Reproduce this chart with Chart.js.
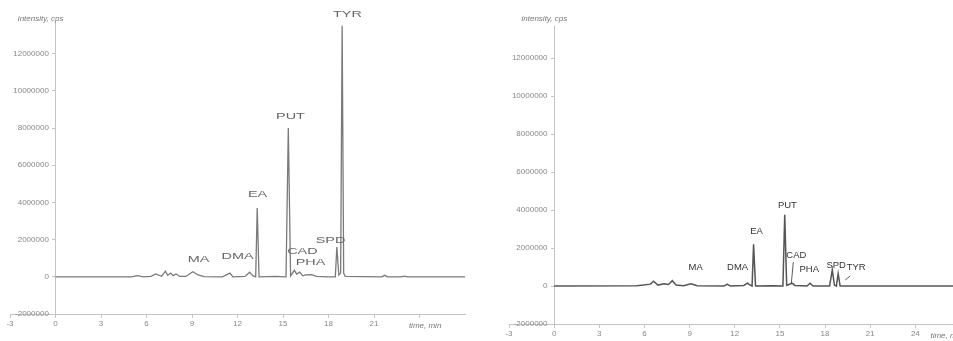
<!DOCTYPE html>
<html>
<head>
<meta charset="utf-8">
<script src="https://cdn.jsdelivr.net/npm/chart.js@4.4.0/dist/chart.umd.min.js"></script>
<style>
    html, body { margin: 0; padding: 0; background: #fff; }
    body { width: 953px; height: 341px; position: relative; overflow: hidden; }
    .box { position: absolute; top: 0; height: 341px; }
    #leftBox { left: 0; width: 472px; }
    #rightBox { left: 480px; width: 473px; }
</style>
</head>
<body>
<div class="box" id="leftBox"><canvas id="leftChart"></canvas></div>
<div class="box" id="rightBox"><canvas id="rightChart"></canvas></div>
<script>
// left chromatogram (time, min / intensity, cps)
const leftTimes = [0, 5.0, 5.4, 5.8, 6.3, 6.6, 7.0, 7.25, 7.4, 7.6, 7.75, 7.95, 8.2, 8.6, 9.05, 9.4, 9.8,
    11.0, 11.5, 11.7, 12.5, 12.8, 13.0, 13.2, 13.3, 13.42, 14.5, 15.2, 15.35, 15.5, 15.75, 15.9, 16.1,
    16.3, 16.5, 16.9, 17.2, 18.0, 18.45, 18.55, 18.68, 18.8, 18.9, 19.0, 19.1, 21.5, 21.7, 21.9, 22.8, 23.0, 23.2, 27];
const leftValues = [0, 0, 60000, 0, 20000, 150000, 30000, 300000, 80000, 200000, 60000, 150000, 20000, 20000, 270000, 100000, 10000,
    0, 200000, 0, 20000, 250000, 60000, 0, 3700000, 0, 20000, 0, 8000000, 50000, 350000, 150000, 250000,
    50000, 100000, 120000, 20000, 0, 0, 1600000, 100000, 200000, 13500000, 200000, 20000, 0, 80000, 0, 0, 40000, 0, 0];

// right chromatogram
const rightTimes = [0, 5.5, 6.4, 6.6, 6.9, 7.3, 7.6, 7.85, 8.1, 8.6, 9.1, 9.5, 11.3, 11.5, 11.7, 12.6, 12.85, 13.05,
    13.15, 13.25, 13.38, 14.5, 15.2, 15.32, 15.45, 15.8, 16.0, 16.8, 17.0, 17.2, 18.3, 18.48, 18.62, 18.75, 18.87, 19.0, 26.5];
const rightValues = [0, 20000, 100000, 250000, 50000, 120000, 80000, 280000, 50000, 20000, 120000, 20000, 0, 100000, 0, 30000, 150000, 40000,
    0, 2200000, 0, 20000, 0, 3750000, 30000, 150000, 30000, 0, 150000, 0, 0, 850000, 50000, 0, 650000, 0, 0];

// peak names and where their labels sit (time, intensity)
const peakNames = ["MA", "DMA", "EA", "PUT", "CAD", "PHA", "SPD", "TYR"];
const leftLabelTimes = [9.43, 12.0, 13.32, 15.49, 16.28, 16.81, 18.13, 19.25];
const leftLabelValues = [910000, 1080000, 4410000, 8600000, 1340000, 750000, 1940000, 14090000];
const rightLabelTimes = [9.4, 12.19, 13.44, 15.5, 16.09, 16.95, 18.74, 20.07];
const rightLabelValues = [950000, 1000000, 2890000, 4260000, 1630000, 890000, 1100000, 950000];

// leader lines on the right chart: [t1, v1, t2, v2]
const rightLeaders = [[15.89, 1260000, 15.76, 160000], [19.34, 320000, 19.67, 530000]];

const xTickValues = [-3, 0, 3, 6, 9, 12, 15, 18, 21, 24];
const yTickValues = [-2000000, 0, 2000000, 4000000, 6000000, 8000000, 10000000, 12000000];

function toPoints(times, values) {
    return times.map((t, i) => ({ x: t, y: values[i] }));
}

const peakLabelPlugin = {
    id: "peakLabels",
    afterDraw(chart, args, opts) {
        const { ctx, scales } = chart;
        const x = scales.x, y = scales.y;
        ctx.save();
        ctx.fillStyle = opts.color;
        ctx.font = opts.font;
        ctx.textAlign = "center";
        ctx.textBaseline = "middle";
        opts.names.forEach((name, i) => {
            const px = x.getPixelForValue(opts.times[i]);
            const py = y.getPixelForValue(opts.values[i]);
            ctx.save();
            ctx.translate(px, py);
            ctx.scale(opts.stretch, 1);
            ctx.fillText(name, 0, 0);
            ctx.restore();
        });
        ctx.strokeStyle = opts.color;
        ctx.lineWidth = 0.8;
        (opts.leaders || []).forEach(l => {
            ctx.beginPath();
            ctx.moveTo(x.getPixelForValue(l[0]), y.getPixelForValue(l[1]));
            ctx.lineTo(x.getPixelForValue(l[2]), y.getPixelForValue(l[3]));
            ctx.stroke();
        });
        // axis captions
        ctx.fillStyle = "#777";
        ctx.font = "italic 8px 'Liberation Sans'";
        ctx.textAlign = "right";
        ctx.fillText("intensity, cps", x.getPixelForValue(0) + opts.capShift, chart.chartArea.top - opts.capGap);
        ctx.textAlign = "left";
        ctx.fillText("time, min", x.getPixelForValue(opts.timeAt), chart.chartArea.bottom + 12);
        ctx.restore();
    }
};

function makeChart(id, times, values, labelTimes, labelValues, cfg) {
    return new Chart(document.getElementById(id), {
        type: "line",
        data: {
            datasets: [{
                data: toPoints(times, values),
                borderColor: cfg.lineColor,
                borderWidth: cfg.lineWidth,
                pointRadius: 0,
                tension: 0
            }]
        },
        options: {
            responsive: true,
            maintainAspectRatio: false,
            animation: false,
            layout: { padding: cfg.padding },
            plugins: {
                legend: { display: false },
                tooltip: { enabled: false },
                peakLabels: {
                    names: peakNames,
                    times: labelTimes,
                    values: labelValues,
                    leaders: cfg.leaders,
                    color: cfg.labelColor,
                    font: cfg.labelFont,
                    stretch: cfg.stretch,
                    timeAt: cfg.timeAt,
                    capShift: cfg.capShift,
                    capGap: cfg.capGap
                }
            },
            scales: {
                x: {
                    type: "linear",
                    min: -3,
                    max: cfg.xMax,
                    position: { y: -2000000 },
                    afterBuildTicks: axis => {
                        axis.ticks = xTickValues.map(v => ({ value: v }));
                    },
                    ticks: {
                        color: "#888",
                        font: { size: 8, family: "'Liberation Sans'" },
                        padding: 2,
                        maxRotation: 0,
                        autoSkip: false,
                        callback: v => (cfg.hide24 && v === 24) ? "" : String(v)
                    },
                    border: { display: true, color: "#c4c4c4", dash: [2, 2] },
                    grid: { display: true, drawOnChartArea: false, tickLength: 3, color: "#c4c4c4" }
                },
                y: {
                    type: "linear",
                    min: -2000000,
                    max: 13700000,
                    position: { x: 0 },
                    afterBuildTicks: axis => {
                        axis.ticks = yTickValues.map(v => ({ value: v }));
                    },
                    ticks: {
                        color: "#888",
                        font: { size: 8, family: "'Liberation Sans'" },
                        padding: 5,
                        autoSkip: false,
                        // dynamic axis position ignores padding, so pad with spaces
                        callback: v => String(v) + "   "
                    },
                    border: { display: true, color: "#c4c4c4" },
                    grid: { display: true, drawOnChartArea: false, tickLength: 3, color: "#c4c4c4" }
                }
            }
        },
        plugins: [peakLabelPlugin]
    });
}

makeChart("leftChart", leftTimes, leftValues, leftLabelTimes, leftLabelValues, {
    lineColor: "#7a7a7a",
    lineWidth: 1.3,
    padding: { left: 10, right: 7, top: 22, bottom: 27 },
    xMax: 27,
    hide24: true,
    timeAt: 23.3,
    labelColor: "#666",
    labelFont: "9px 'Liberation Sans'",
    stretch: 1.6,
    capShift: 8,
    capGap: 3
});

makeChart("rightChart", rightTimes, rightValues, rightLabelTimes, rightLabelValues, {
    lineColor: "#555",
    lineWidth: 1.5,
    padding: { left: 29, right: 0, top: 26, bottom: 17 },
    xMax: 26.5,
    hide24: false,
    timeAt: 25,
    labelColor: "#333",
    labelFont: "9px 'Liberation Sans'",
    stretch: 1.05,
    leaders: rightLeaders,
    capShift: 13,
    capGap: 7
});
</script>
</body>
</html>
